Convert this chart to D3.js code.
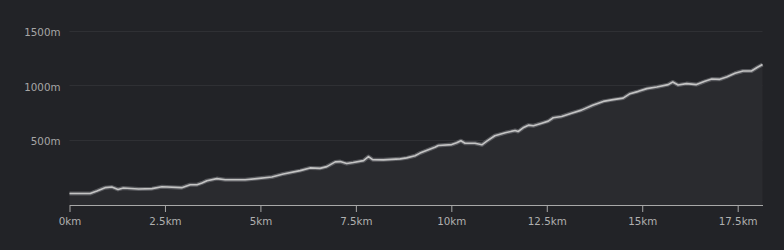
<!DOCTYPE html>
<html>
<head>
<meta charset="utf-8">
<script src="https://cdn.jsdelivr.net/npm/d3@7"></script>
<style>
	html, body { margin: 0; padding: 0; background: #222327; }
	svg { display: block; }
</style>
</head>
<body>
<svg id="chart" width="784" height="250"></svg>
<script>
// elevation profile
var distKm = [0, 0.54, 0.72, 0.93, 1.11, 1.27, 1.41, 1.81, 2.16, 2.42, 2.94, 3.16, 3.34, 3.47, 3.60, 3.86, 4.08, 4.60,
	4.91, 5.30, 5.60, 6.04, 6.30, 6.56, 6.74, 6.96, 7.09, 7.26, 7.43, 7.70, 7.83, 7.94, 8.22, 8.66, 8.83, 9.05, 9.18,
	9.57, 9.66, 10.01, 10.14, 10.25, 10.36, 10.62, 10.80, 10.93, 11.14, 11.41, 11.67, 11.75, 11.88, 12.02, 12.15, 12.37,
	12.54, 12.67, 12.89, 13.15, 13.41, 13.70, 13.98, 14.24, 14.50, 14.68, 14.90, 15.12, 15.38, 15.68, 15.80, 15.94,
	16.16, 16.42, 16.64, 16.82, 17.03, 17.21, 17.43, 17.64, 17.86, 18.02, 18.15];
var elevM = [5, 5, 29, 59, 65, 43, 56, 47, 50, 68, 59, 86, 86, 102, 123, 142, 132, 132,
	142, 157, 185, 215, 240, 236, 252, 295, 298, 280, 289, 307, 344, 316, 314, 323, 332, 351, 376,
	430, 445, 454, 470, 489, 466, 466, 452, 485, 535, 562, 583, 574, 608, 632, 627, 650,
	669, 700, 712, 742, 770, 814, 850, 866, 880, 921, 942, 967, 982, 1004, 1028, 1000,
	1013, 1004, 1034, 1055, 1052, 1074, 1108, 1129, 1129, 1163, 1188];

var xTicks = [0, 2.5, 5, 7.5, 10, 12.5, 15, 17.5];
var yTicks = [500, 1000, 1500];

var svg = d3.select("#chart");

var x = d3.scaleLinear().domain([0, 18.15]).range([69.5, 762.5]);
var y = d3.scaleLinear().domain([-100, 1500]).range([205, 30.5]);

var data = distKm.map(function(d, i){ return { km: d, m: elevM[i] }; });

// grid lines
svg.append("g")
	.selectAll("line")
	.data(yTicks)
	.join("line")
		.attr("x1", x.range()[0])
		.attr("x2", x.range()[1])
		.attr("y1", function(d){ return Math.round(y(d)) + 0.5; })
		.attr("y2", function(d){ return Math.round(y(d)) + 0.5; })
		.attr("stroke", "#2f3034")
		.attr("stroke-width", 1);

// y labels
svg.append("g")
	.selectAll("text")
	.data(yTicks)
	.join("text")
		.attr("x", 60.5)
		.attr("y", function(d){ return y(d) + 5.5; })
		.attr("text-anchor", "end")
		.attr("fill", "#a6a6a6")
		.attr("font-family", "DejaVu Sans, sans-serif")
		.attr("font-size", "10.3px")
		.text(function(d){ return d + "m"; });

// area
var area = d3.area()
	.x(function(d){ return x(d.km); })
	.y0(y(-100))
	.y1(function(d){ return y(d.m); });

svg.append("path")
	.datum(data)
	.attr("d", area)
	.attr("fill", "#2a2b2f");

// line with a soft halo
var line = d3.line()
	.x(function(d){ return x(d.km); })
	.y(function(d){ return y(d.m); });

svg.append("path")
	.datum(data)
	.attr("d", line)
	.attr("fill", "none")
	.attr("stroke", "#6e6f73")
	.attr("stroke-opacity", 0.7)
	.attr("stroke-width", 4)
	.attr("stroke-linejoin", "round");

svg.append("path")
	.datum(data)
	.attr("d", line)
	.attr("fill", "none")
	.attr("stroke", "#c4c4c4")
	.attr("stroke-width", 1.6)
	.attr("stroke-linejoin", "round");

// x axis
var xAxis = d3.axisBottom(x)
	.tickValues(xTicks)
	.tickSize(7)
	.tickSizeOuter(0)
	.tickFormat(function(d){ return d + "km"; });

var gx = svg.append("g")
	.attr("transform", "translate(0,205)")
	.call(xAxis);

gx.select(".domain").attr("stroke", "#a8a8a8");
gx.selectAll(".tick line").attr("stroke", "#a8a8a8");
gx.selectAll(".tick text")
	.attr("fill", "#b0b0b0")
	.attr("font-family", "DejaVu Sans, sans-serif")
	.attr("font-size", "10.3px")
	.attr("dy", "0.9em")
	.attr("y", 11);
</script>
</body>
</html>
